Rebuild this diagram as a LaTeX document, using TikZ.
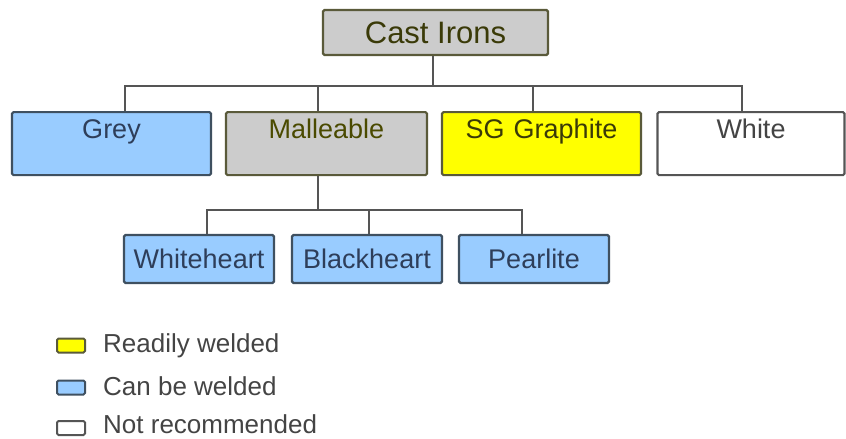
\documentclass[tikz,border=0pt]{standalone}
\usepackage{fontspec}
\setmainfont{Liberation Sans}
\definecolor{lblue}{HTML}{99CCFF}
\definecolor{lgrey}{HTML}{CCCCCC}
\definecolor{ylw}{HTML}{FFFF00}
\definecolor{edge}{HTML}{555555}
\definecolor{olivedge}{HTML}{5A5A3A}
\definecolor{blueedge}{HTML}{3F5060}
\definecolor{olivetext}{HTML}{3A3A08}
\definecolor{maltext}{HTML}{4A4A00}
\definecolor{bluetext}{HTML}{2E3E5A}
\definecolor{greytext}{HTML}{444444}
\tikzset{
  box/.style={draw, line width=2.2pt, rounded corners=1.5pt, inner sep=0pt, align=center},
  toprow/.style={box, text width=#1, text height=26.7pt, text depth=36.3pt, font=\fontsize{27}{30}\selectfont},
  subrow/.style={box, minimum width=150pt, minimum height=48pt, font=\fontsize{27}{30}\selectfont, fill=lblue, draw=blueedge, text=bluetext},
  conn/.style={draw=edge, line width=2pt},
  legsq/.style={draw, line width=2pt, rounded corners=1.5pt, minimum width=28pt, minimum height=14pt, inner sep=0pt},
  legtext/.style={anchor=west, inner sep=0pt, font=\fontsize{26}{28}\selectfont, text=greytext}
}
\begin{document}
\begin{tikzpicture}[x=1pt,y=-1pt]
\useasboundingbox (0,0) rectangle (846,439);
\node[box, minimum width=225pt, minimum height=45pt, fill=lgrey, draw=olivedge, text=olivetext, font=\fontsize{31}{34}\selectfont] (ci) at (435.5,32.5) {Cast Irons};

\node[toprow=199pt, fill=lblue, draw=blueedge, text=bluetext, anchor=north] (grey) at (111.5,111) {Grey};
\node[toprow=201pt, fill=lgrey, draw=olivedge, text=maltext, anchor=north] (mal) at (326.5,111) {Malleable};
\node[toprow=199pt, fill=ylw, draw=olivedge, text=olivetext, anchor=north] (sg) at (541.5,111) {SG Graphite};
\node[toprow=187pt, fill=white, draw=edge, text=greytext, anchor=north] (wh) at (751,111) {White};

\node[subrow] (wt) at (199,259) {Whiteheart};
\node[subrow] (bk) at (367,259) {Blackheart};
\node[subrow] (pl) at (534,259) {Pearlite};

\coordinate (bus) at (433,86);
\coordinate (sbus) at (318,210);
\draw[conn] ([xshift=-2.5pt]ci.south) -- (bus);
\draw[conn] ([xshift=13.5pt]grey.north) |- (bus) -| ([xshift=-8.5pt]mal.north);
\draw[conn] (bus) -| ([xshift=-8.5pt]sg.north);
\draw[conn] (bus) -| ([xshift=-9pt]wh.north);
\draw[conn] ([xshift=-8.5pt]mal.south) -- (sbus);
\draw[conn] ([xshift=8pt]wt.north) |- (sbus) -| ([xshift=-12pt]pl.north);
\draw[conn] ([xshift=2pt]bk.north) -- ([xshift=2pt]bk.north |- sbus);

\node[legsq, fill=ylw, draw=olivedge] (l1) at (71,345.5) {};
\node[legsq, fill=lblue, draw=blueedge] (l2) at (71,387.5) {};
\node[legsq, fill=white, draw=edge] (l3) at (71,428) {};
\node[legtext] (t1) at (103,346) {Readily welded};
\node[legtext] (t2) at (103,386) {Can be welded};
\node[legtext] (t3) at (103,424) {Not recommended};
\end{tikzpicture}
\end{document}
